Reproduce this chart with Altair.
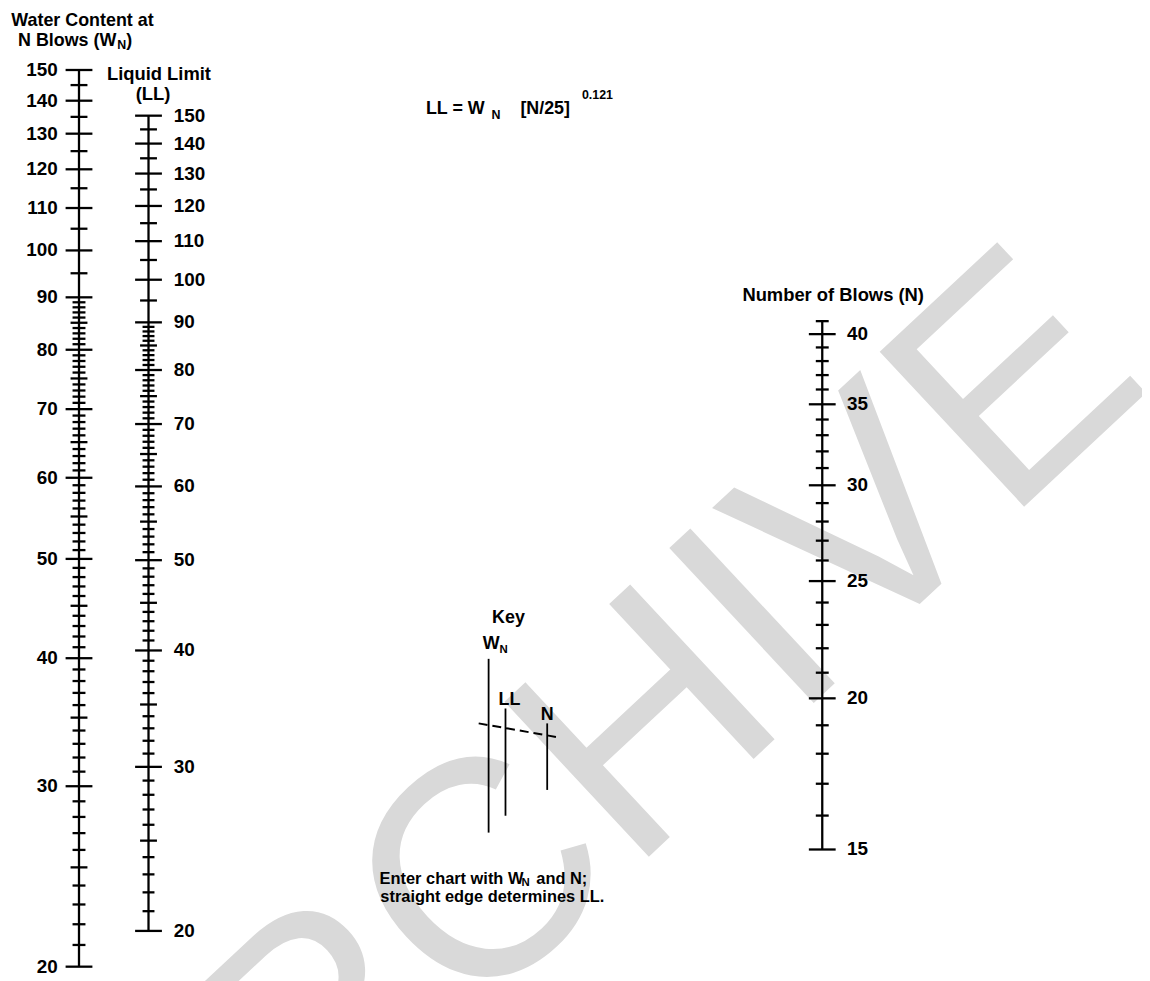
import altair as alt
import pandas as pd

FONT = "Liberation Sans"

# ---- scale graduations ----
WN_MAJOR = [20, 30, 40, 50, 60, 70, 80, 90, 100, 110, 120, 130, 140, 150]
WN_MEDIUM = [25, 35, 45, 55, 65, 75, 85, 95, 105, 115, 125, 135, 145]
WN_MINOR = [21, 22, 23, 24, 26, 27, 28, 29,
            31, 32, 33, 34, 36, 37, 38, 39,
            41, 42, 43, 44, 46, 47, 48, 49,
            51, 52, 53, 54, 56, 57, 58, 59,
            61, 62, 63, 64, 66, 67, 68, 69,
            71, 72, 73, 74, 76, 77, 78, 79,
            81, 82, 83, 84, 86, 87, 88, 89]

LL_MAJOR = [20, 30, 40, 50, 60, 70, 80, 90, 100, 110, 120, 130, 140, 150]
LL_MEDIUM = [25, 35, 45, 55, 65, 75, 85, 95, 105, 115, 125, 135, 145]
LL_MINOR = [21, 22, 23, 24, 26, 27, 28, 29,
            31, 32, 33, 34, 36, 37, 38, 39,
            41, 42, 43, 44, 46, 47, 48, 49,
            51, 52, 53, 54, 56, 57, 58, 59,
            61, 62, 63, 64, 66, 67, 68, 69,
            71, 72, 73, 74, 76, 77, 78, 79,
            81, 82, 83, 84, 86, 87, 88, 89]

N_MAJOR = [15, 20, 25, 30, 35, 40]
N_MEDIUM = []
N_MINOR = [16, 17, 18, 19, 21, 22, 23, 24, 26, 27, 28, 29,
           31, 32, 33, 34, 36, 37, 38, 39, 41]

WN_DOMAIN = [20, 150]
LL_DOMAIN = [20, 150]
N_DOMAIN = [15, 40]

OX, OY = 8, 8  # page margin


def px(x):
    return x - OX


def py(y):
    return y - OY


def scale_table(major, medium, minor):
    rows = ([{"value": v, "kind": "major"} for v in major]
            + [{"value": v, "kind": "medium"} for v in medium]
            + [{"value": v, "kind": "minor"} for v in minor])
    return pd.DataFrame(rows)


def nomo_axis(df, domain, yrange, axis_x, halves, label_x, label_align):
    sc = alt.Scale(type="log", domain=domain, range=[py(yrange[0]), py(yrange[1])], nice=False)
    base = alt.Chart(df)
    layers = [
        base.mark_rule(color="black", strokeWidth=2.3).encode(
            x=alt.value(px(axis_x)),
            y=alt.Y("min(value):Q", scale=sc, axis=None),
            y2=alt.Y2("max(value):Q"),
        )
    ]
    for kind, half in halves.items():
        layers.append(
            base.transform_filter(alt.datum.kind == kind)
            .mark_rule(color="black", strokeWidth=2.3)
            .encode(
                x=alt.value(px(axis_x - half)),
                x2=alt.value(px(axis_x + half)),
                y=alt.Y("value:Q", scale=sc, axis=None),
            )
        )
    layers.append(
        base.transform_filter(alt.datum.kind == "major")
        .mark_text(font=FONT, fontSize=19, fontWeight="bold", align=label_align,
                   baseline="middle", color="black")
        .encode(
            x=alt.value(px(label_x)),
            y=alt.Y("value:Q", scale=sc, axis=None),
            text=alt.Text("value:Q", format="d"),
        )
    )
    return alt.layer(*layers)


ONE = pd.DataFrame({"k": [0]})


def txt(s, x, y, size=18, align="left", weight="bold", baseline="alphabetic"):
    return alt.Chart(ONE).mark_text(
        text=s, font=FONT, fontSize=size, fontWeight=weight, align=align,
        baseline=baseline, color="black",
    ).encode(x=alt.value(px(x)), y=alt.value(py(y)))


def seg(x1, y1, x2, y2, width=1.8, dash=None):
    props = dict(color="black", strokeWidth=width)
    if dash:
        props["strokeDash"] = dash
    return alt.Chart(ONE).mark_rule(**props).encode(
        x=alt.value(px(x1)), y=alt.value(py(y1)),
        x2=alt.value(px(x2)), y2=alt.value(py(y2)),
    )


watermark = alt.Chart(ONE).mark_text(
    text="ARCHIVE", font=FONT, fontSize=310, fontWeight="normal",
    align="center", baseline="alphabetic", angle=317, color="#d9d9d9",
).encode(x=alt.value(px(660)), y=alt.value(py(853)))

wn_axis = nomo_axis(scale_table(WN_MAJOR, WN_MEDIUM, WN_MINOR), WN_DOMAIN, [970, 67],
                    79.5, {"major": 13.5, "medium": 8.5, "minor": 6.5}, 58, "right")
ll_axis = nomo_axis(scale_table(LL_MAJOR, LL_MEDIUM, LL_MINOR), LL_DOMAIN, [934, 113],
                    149.5, {"major": 13.5, "medium": 8.5, "minor": 6.0}, 175, "left")
n_axis = nomo_axis(scale_table(N_MAJOR, N_MEDIUM, N_MINOR), N_DOMAIN, [852, 333],
                   828, {"major": 13.5, "minor": 6.5}, 853, "left")

annotations = [
    # titles of the scales
    txt("Water Content at", 83, 22.5, size=18, align="center"),
    txt("N Blows (W", 117, 42.5, size=18, align="right"),
    txt("N", 118, 45.5, size=12.5),
    txt(")", 127, 42.5, size=18),
    txt("Liquid Limit", 160, 77, size=18.5, align="center"),
    txt("(LL)", 154, 97, size=18.5, align="center"),
    txt("Number of Blows (N)", 839, 300, size=18.5, align="center"),
    # formula
    txt("LL = W", 488, 111, align="right"),
    txt("N", 495, 116, size=12.5),
    txt("[N/25]", 524, 111),
    txt("0.121", 586, 96, size=12.5),
    # key
    txt("Key", 512, 624, align="center"),
    txt("W", 503, 650, align="right"),
    txt("N", 503, 654, size=11.5),
    txt("LL", 513, 706, align="center"),
    txt("N", 551, 722, align="center"),
    seg(492, 660, 492, 835),
    seg(509, 710, 509, 818),
    seg(551, 725, 551, 792),
    seg(482, 725, 562, 739, width=2.0, dash=[9, 5]),
    # instructions
    txt("Enter chart with W", 527, 887, size=16.5, align="right"),
    txt("N", 525, 889, size=11.5),
    txt("and N;", 540, 887, size=16.5),
    txt("straight edge determines LL.", 383, 905, size=16.5),
]

chart = alt.layer(watermark, wn_axis, ll_axis, n_axis, *annotations).resolve_scale(
    y="independent"
).properties(
    width=1142, height=973, padding=0,
    autosize=alt.AutoSizeParams(type="none"),
).configure_view(stroke=None)

chart.save("out.html", embed_options={"renderer": "svg", "actions": False})
